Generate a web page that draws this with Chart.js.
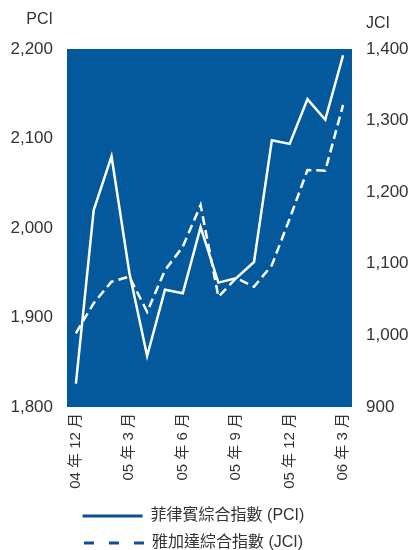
<!DOCTYPE html>
<html>
<head>
<meta charset="utf-8">
<script src="https://cdn.jsdelivr.net/npm/chart.js@4.4.1/dist/chart.umd.min.js"></script>
<style>
  html, body { margin: 0; padding: 0; background: #fff; }
  #wrap { width: 411px; height: 550px; }
</style>
</head>
<body>
<div id="wrap"><canvas id="chart" width="411" height="550"></canvas></div>
<script>
// monthly closes, Dec 04 - Mar 06
const months = ["04 年 12 月", "05 年 1 月", "05 年 2 月", "05 年 3 月", "05 年 4 月", "05 年 5 月",
                "05 年 6 月", "05 年 7 月", "05 年 8 月", "05 年 9 月", "05 年 10 月", "05 年 11 月",
                "05 年 12 月", "06 年 1 月", "06 年 2 月", "06 年 3 月"];
const pciValues = [1826, 2020, 2080, 1950, 1857, 1931, 1927, 2001, 1939, 1944, 1962, 2098, 2094, 2144, 2121, 2193];
const jciValues = [1003, 1045, 1075, 1082, 1033, 1091, 1124, 1182, 1054, 1080, 1068, 1098, 1163, 1231, 1230, 1322];
const pciTicks = [1800, 1900, 2000, 2100, 2200];
const jciTicks = [900, 1000, 1100, 1200, 1300, 1400];
const seriesNames = ["菲律賓綜合指數 (PCI)", "雅加達綜合指數 (JCI)"];

const plotBlue = "#03599c";
const legendBlue = "#0d4f96";
const textColor = "#333333";
const fontFamily = "'Liberation Sans', 'Noto Sans CJK TC', sans-serif";

// blue plot background + axis titles
const panelPlugin = {
    id: "panel",
    beforeDatasetsDraw(chart) {
        const { ctx, chartArea } = chart;
        ctx.save();
        ctx.fillStyle = plotBlue;
        ctx.fillRect(chartArea.left, chartArea.top, chartArea.right - chartArea.left, chartArea.bottom - chartArea.top);
        ctx.restore();
    },
    afterDraw(chart) {
        const { ctx, chartArea } = chart;
        ctx.save();
        ctx.fillStyle = textColor;
        ctx.font = "16px " + fontFamily;
        ctx.textBaseline = "middle";
        ctx.textAlign = "right";
        ctx.fillText("PCI", chartArea.left - 14, 20);
        ctx.textAlign = "left";
        ctx.fillText("JCI", chartArea.right + 14, 24);
        ctx.restore();
    }
};

// nudge the legend block down/left, and let the month labels run past the axis box
const legendShift = {
    id: "legendShift",
    afterLayout(chart) {
        const lg = chart.legend;
        if (lg) {
            lg.left -= 12; lg.right -= 12;
            lg.top += 11; lg.bottom += 11;
        }
        chart.scales.x.bottom += 14;
    }
};

const ctx = document.getElementById("chart").getContext("2d");
new Chart(ctx, {
    type: "line",
    data: {
        labels: months,
        datasets: [
            {
                label: seriesNames[0],
                data: pciValues,
                yAxisID: "y",
                borderColor: "#ffffff",
                borderWidth: 2.5,
                pointRadius: 0,
                tension: 0,
                fill: false
            },
            {
                label: seriesNames[1],
                data: jciValues,
                yAxisID: "y1",
                borderColor: "#ffffff",
                borderWidth: 2.5,
                borderDash: [9, 5],
                pointRadius: 0,
                tension: 0,
                fill: false
            }
        ]
    },
    options: {
        responsive: false,
        animation: false,
        layout: { padding: { top: 49, left: 0, right: 0, bottom: 0 } },
        plugins: {
            tooltip: { enabled: false },
            legend: {
                position: "bottom",
                labels: {
                    usePointStyle: true,
                    pointStyleWidth: 60,
                    padding: 11,
                    color: textColor,
                    font: { family: fontFamily, size: 16 },
                    generateLabels(chart) {
                        const items = Chart.defaults.plugins.legend.labels.generateLabels(chart);
                        items.forEach(it => {
                            it.pointStyle = "line";
                            it.strokeStyle = legendBlue;
                            it.fillStyle = legendBlue;
                            it.lineWidth = 3;
                            it.lineDash = it.datasetIndex === 1 ? [10, 15] : [];
                        });
                        return items;
                    }
                }
            }
        },
        scales: {
            x: {
                offset: true,
                grid: { display: false, drawTicks: false },
                border: { display: false },
                ticks: {
                    autoSkip: false,
                    minRotation: 90,
                    maxRotation: 90,
                    padding: 6,
                    color: textColor,
                    font: { family: fontFamily, size: 15 },
                    callback: function (value, index) {
                        return index % 3 === 0 ? this.getLabelForValue(value) : null;
                    }
                },
                afterFit(scale) { scale.height = 79; }
            },
            y: {
                position: "left",
                min: pciTicks[0],
                max: pciTicks[pciTicks.length - 1],
                grid: { display: false, drawTicks: false },
                border: { display: false },
                afterBuildTicks(scale) { scale.ticks = pciTicks.map(v => ({ value: v })); },
                ticks: {
                    padding: 14,
                    color: textColor,
                    font: { family: fontFamily, size: 17 },
                    callback: v => v.toLocaleString("en-US")
                },
                afterFit(scale) { scale.width = 67; }
            },
            y1: {
                position: "right",
                min: jciTicks[0],
                max: jciTicks[jciTicks.length - 1],
                grid: { display: false, drawTicks: false },
                border: { display: false },
                afterBuildTicks(scale) { scale.ticks = jciTicks.map(v => ({ value: v })); },
                ticks: {
                    padding: 14,
                    color: textColor,
                    font: { family: fontFamily, size: 17 },
                    callback: v => v.toLocaleString("en-US")
                },
                afterFit(scale) { scale.width = 59; }
            }
        }
    },
    plugins: [panelPlugin, legendShift]
});
</script>
</body>
</html>
